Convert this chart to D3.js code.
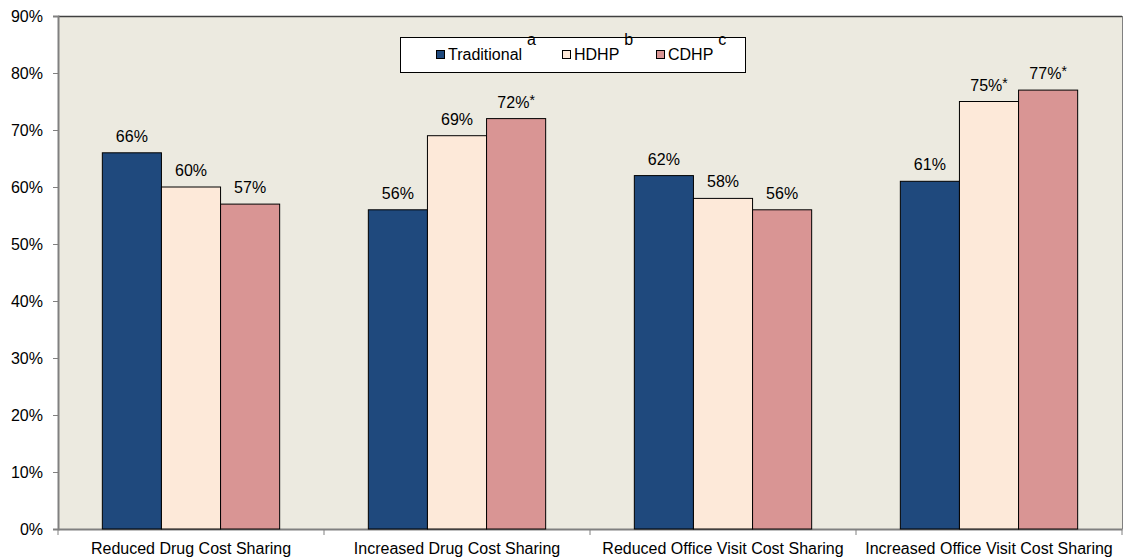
<!DOCTYPE html>
<html><head><meta charset="utf-8">
<script src="https://cdn.jsdelivr.net/npm/d3@7"></script>
<style>
body{margin:0;background:#fff;}
svg{display:block;font-family:Arial,"Liberation Sans",sans-serif;}
</style></head>
<body><svg id="c" width="1124" height="559"></svg>
<script>
const categories = ["Reduced Drug Cost Sharing","Increased Drug Cost Sharing","Reduced Office Visit Cost Sharing","Increased Office Visit Cost Sharing"];
const seriesNames = ["Traditional","HDHP","CDHP"];
const seriesSup = ["a","b","c"];
const traditional = [66,56,62,61];
const hdhp = [60,69,58,75];
const cdhp = [57,72,56,77];
const traditionalStar = [false,false,false,false];
const hdhpStar = [false,false,false,true];
const cdhpStar = [false,true,false,true];
const yTicks = [0,10,20,30,40,50,60,70,80,90];
const colors = ["#1F497D","#FDE9D9","#D99594"];

const values = [traditional,hdhp,cdhp];
const stars = [traditionalStar,hdhpStar,cdhpStar];
const FONT = "Arial, 'Liberation Sans', sans-serif";

const svg = d3.select("#c");
const m = {l:58,r:1122,t:16,b:529};
const x = d3.scaleBand().domain(categories).range([m.l,m.r]).paddingInner(0).paddingOuter(0);
const xs = d3.scaleBand().domain(seriesNames).range([0,x.bandwidth()]).paddingInner(0).paddingOuter(0.75);
const y = d3.scaleLinear().domain([0,90]).range([m.b,m.t]);

svg.append("rect").attr("x",m.l).attr("y",m.t).attr("width",m.r-m.l).attr("height",m.b-m.t).attr("fill","#ECEAE0");
svg.append("line").attr("x1",m.l).attr("x2",m.r).attr("y1",m.t+0.5).attr("y2",m.t+0.5).attr("stroke","#404040").attr("stroke-width",1.5);
svg.append("line").attr("x1",m.r+0.5).attr("x2",m.r+0.5).attr("y1",m.t).attr("y2",m.b).attr("stroke","#808080");

// y axis
const ya = svg.append("g").attr("transform",`translate(${m.l},0)`)
  .call(d3.axisLeft(y).tickValues(yTicks).tickSize(5).tickPadding(10).tickFormat(d=>d+"%"));
ya.select(".domain").attr("stroke","#808080").attr("stroke-width",2);
ya.selectAll(".tick line").attr("stroke","#808080");
ya.selectAll("text").attr("font-size",16).attr("fill","#000").attr("font-family",FONT);

// x axis
const xa = svg.append("g").attr("transform",`translate(0,${m.b})`)
  .call(d3.axisBottom(x).tickSize(0).tickPadding(14));
xa.select(".domain").attr("stroke","#808080").attr("stroke-width",2);
xa.selectAll("text").attr("font-size",16).attr("fill","#000").attr("font-family",FONT);
const bounds = categories.map(c=>x(c)).concat([m.r]);
xa.selectAll(".bt").data(bounds).enter().append("line").attr("class","bt")
  .attr("x1",d=>d).attr("x2",d=>d).attr("y1",0).attr("y2",6).attr("stroke","#808080");

// bars
seriesNames.forEach((s,si)=>{
  const g = svg.append("g");
  categories.forEach((c,ci)=>{
    const v = values[si][ci];
    const bx = x(c)+xs(s);
    g.append("rect").attr("x",bx).attr("y",y(v)).attr("width",xs.bandwidth()).attr("height",y(0)-y(v))
      .attr("fill",colors[si]).attr("stroke","#000").attr("stroke-width",1);
    const t = g.append("text").attr("x",bx+xs.bandwidth()/2).attr("y",y(v)-11)
      .attr("text-anchor","middle").attr("font-size",16).attr("fill","#000").text(v+"%");
    if(stars[si][ci]) t.append("tspan").attr("font-size",14).attr("dy",-3).text("*");
  });
});

// legend
const lg = svg.append("g");
lg.append("rect").attr("x",400.5).attr("y",37.5).attr("width",345).attr("height",35).attr("fill","#fff").attr("stroke","#000");
const mx = [436,562,656];
seriesNames.forEach((s,i)=>{
  lg.append("rect").attr("x",mx[i]+0.5).attr("y",50.5).attr("width",8).attr("height",8).attr("fill",colors[i]).attr("stroke","#000");
  const t = lg.append("text").attr("x",mx[i]+12).attr("y",60).attr("font-size",16).attr("fill","#000").text(s);
  t.append("tspan").attr("dx",5).attr("dy",-15).attr("font-size",16).text(seriesSup[i]);
});
</script></body></html>
